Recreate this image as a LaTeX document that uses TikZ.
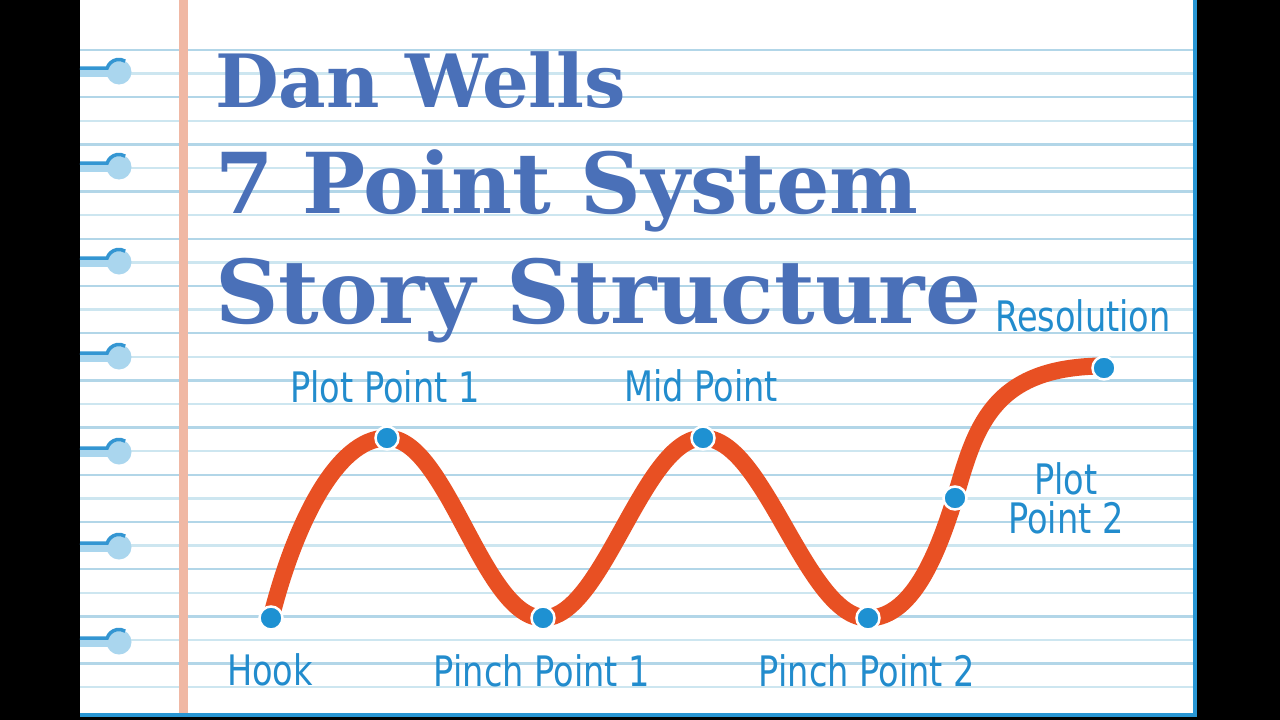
\documentclass[tikz,border=0pt]{standalone}
\usepackage{fontspec}
\newfontfamily\headfont{DejaVu Serif}
\newfontfamily\tagfont[FakeStretch=0.8]{DejaVu Sans}
\definecolor{ruledark}{RGB}{178,214,232}
\definecolor{rulelight}{RGB}{205,230,240}
\definecolor{marginred}{RGB}{240,184,164}
\definecolor{holelight}{RGB}{170,214,238}
\definecolor{holedark}{RGB}{52,150,210}
\definecolor{edgeblue}{RGB}{40,150,212}
\definecolor{headblue}{RGB}{74,112,184}
\definecolor{tagblue}{RGB}{34,140,205}
\definecolor{curveorange}{RGB}{232,80,35}
\definecolor{dotblue}{RGB}{30,145,210}
\begin{document}
\begin{tikzpicture}[x=1pt,y=-1pt,
  head/.style={text=headblue, font=\headfont\bfseries\fontsize{#1}{#1}\selectfont, inner sep=0pt, anchor=base west},
  tag/.style={text=tagblue, font=\tagfont\fontsize{42}{42}\selectfont, inner sep=0pt, anchor=base},
  dot/.style={circle, fill=dotblue, draw=white, line width=2.5pt, minimum size=23pt, inner sep=0pt},
  plotline/.style={curveorange, line width=17pt, line cap=round}]
\useasboundingbox (0,0) rectangle (1280,720);
\fill[black] (0,0) rectangle (1280,720);
\fill[white] (80,0) rectangle (1196,716);
% ruled paper
\foreach \k in {0,2,...,26}
  \draw[ruledark, line width=2.5pt] (80,{50+23.6*\k}) -- (1193,{50+23.6*\k});
\foreach \k in {1,3,...,27}
  \draw[rulelight, line width=2.5pt] (80,{50+23.6*\k}) -- (1193,{50+23.6*\k});
\fill[marginred] (179,0) rectangle (188,716);
% binder holes
\foreach \y in {72,167,...,642} {
  \fill[holelight] (80,\y-4) rectangle (119,\y+5);
  \fill[holelight] (119,\y) circle[radius=12.5];
  \draw[holedark, line width=3.5pt] (80,\y-4) -- (107.1,\y-3.9) arc[start angle=198, end angle=300, radius=12.5];
}
\draw[edgeblue, line width=4pt] (1195,0) -- (1195,715) -- (80,715);
% title
\node[head=73.5] (title1) at (215,107) {Dan Wells};
\node[head=84] (title2) at (215,213) {7 Point System};
\node[head=88] (title3) at (215,323) {Story Structure};
% story curve
\coordinate (hook) at (271,618);
\coordinate (pp1) at (387,438);
\coordinate (pinch1) at (543,618);
\coordinate (mid) at (703,438);
\coordinate (pinch2) at (868,618);
\coordinate (pp2) at (955,498);
\coordinate (res) at (1100,366);
\draw[plotline] (hook) .. controls (293,530) and (335,438) .. (pp1)
  .. controls (447,438) and (483,618) .. (pinch1)
  .. controls (603,618) and (643,438) .. (mid)
  .. controls (765,438) and (806,618) .. (pinch2)
  .. controls (915,618) and (940,545) .. (pp2)
  .. controls (975,430) and (990,368) .. (res);
\node[dot] (hookdot) at (hook) {};
\node[dot] (pp1dot) at (pp1) {};
\node[dot] (pinch1dot) at (pinch1) {};
\node[dot] (middot) at (mid) {};
\node[dot] (pinch2dot) at (pinch2) {};
\node[dot] (pp2dot) at (pp2) {};
\node[dot] (resdot) at (1104,368) {};
% labels
\node[tag] (hooklbl) at (270,685) {Hook};
\node[tag] (pp1lbl) at (385,402) {Plot Point 1};
\node[tag] (pinch1lbl) at (542,686) {Pinch Point 1};
\node[tag] (midlbl) at (701,401) {Mid Point};
\node[tag] (pinch2lbl) at (867,686) {Pinch Point 2};
\node[tag] (pp2lbl) at (1066,494) {Plot};
\node[tag] (pp2lblb) at (1066,533) {Point 2};
\node[tag] (reslbl) at (1083,331) {Resolution};
\end{tikzpicture}
\end{document}
